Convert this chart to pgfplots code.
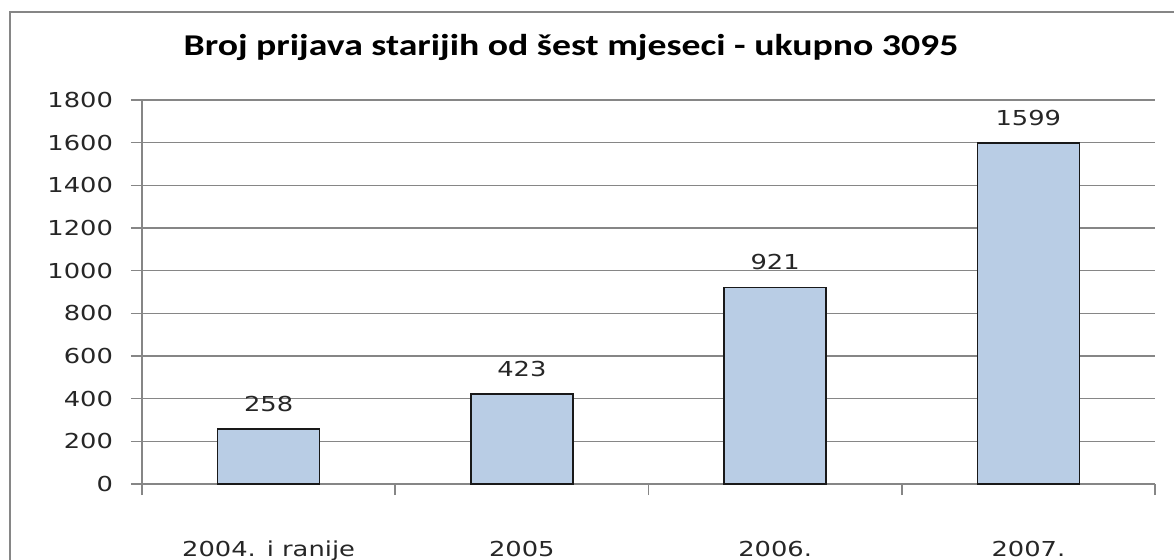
\documentclass[border=0pt]{standalone}
\usepackage{pgfplots}
\usepackage{pgfplotstable}
\pgfplotsset{compat=1.18}
\usepackage{fontspec}
\setmainfont{DejaVu Sans}[FakeStretch=1.25]
\newfontfamily\titlefont{Carlito}[FakeStretch=1.25]
\definecolor{barfill}{HTML}{B9CDE5}
\definecolor{gridc}{HTML}{868686}
\definecolor{txt}{HTML}{262626}
\pgfplotstableread{
x y
0.5 258
1.5 423
2.5 921
3.5 1599
}\datatable
\begin{document}
\begin{tikzpicture}
\begin{axis}[
  at={(71pt,37.5pt)}, anchor=south west,
  scale only axis, width=506.5pt, height=192pt,
  xmin=0, xmax=4, ymin=0, ymax=1800, enlargelimits=false,
  clip=false,
  axis x line*=bottom, axis y line*=left,
  axis line style={-, draw=gridc, line width=0.9pt},
  ytick={0,200,...,1800},
  ymajorgrids, grid style={draw=gridc, line width=0.6pt},
  tick align=outside, major tick length=5.5pt, minor tick length=5.5pt,
  ytick style={draw=gridc, line width=0.6pt},
  xtick={0.5,1.5,2.5,3.5},
  xticklabels={2004. i ranije,2005,2006.,2007.},
  major x tick style={draw=none},
  minor xtick={0,1,2,3,4},
  minor x tick style={draw=gridc, line width=0.9pt},
  /pgf/number format/assume math mode=true,
  /pgf/number format/1000 sep={},
  ticklabel style={font=\fontsize{10.3}{12}\selectfont, text=txt},
  yticklabel style={anchor=east, xshift=-5.5pt},
  xticklabel style={anchor=north, yshift=-19.5pt},
  ybar, bar width=51pt,
  nodes near coords,
  nodes near coords style={font=\fontsize{10.3}{12}\selectfont, text=txt, anchor=south, yshift=5pt},
]
\addplot[fill=barfill, draw=black!90, line width=0.8pt] table[x=x,y=y] {\datatable};
\end{axis}
\node[font=\titlefont\bfseries\fontsize{15.1}{17}\selectfont, text=black] at (285.5pt,256pt) {Broj prijava starijih od šest mjeseci - ukupno 3095};
\draw[gridc, line width=1pt] (5pt,-10pt) -- (5pt,273.5pt) -- (600pt,273.5pt);
\pgfresetboundingbox
\useasboundingbox (0,0) rectangle (587pt,279.5pt);
\end{tikzpicture}
\end{document}
